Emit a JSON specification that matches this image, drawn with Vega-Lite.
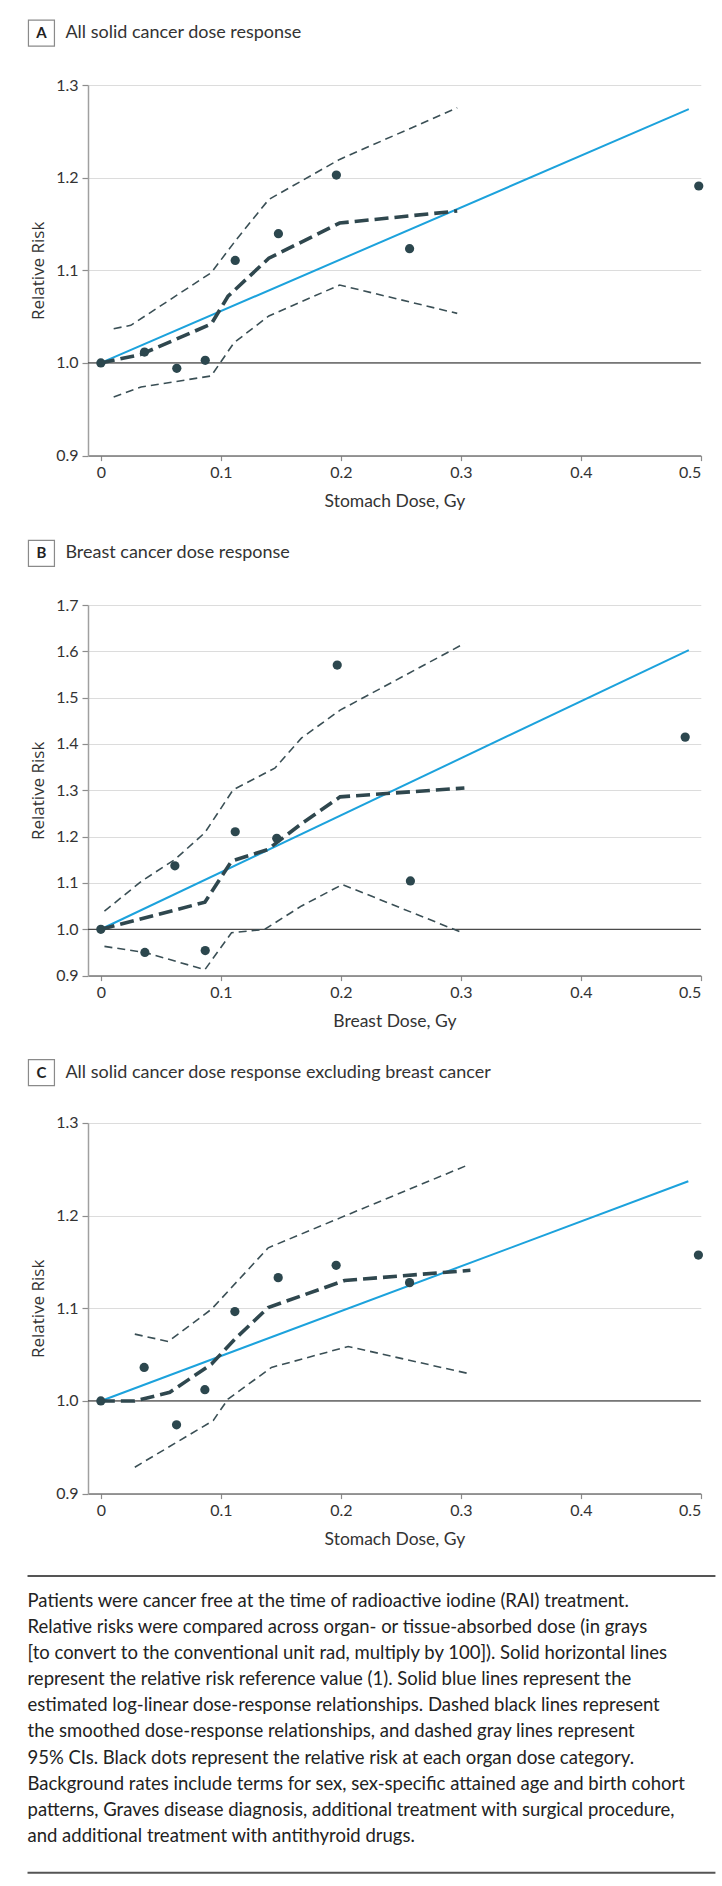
{
  "$schema": "https://vega.github.io/schema/vega-lite/v6.json",
  "padding": {"left": 26, "top": 17, "right": 5, "bottom": 5},
  "background": "white",
  "spacing": 26,
  "config": {
    "view": {"stroke": null},
    "axis": {"labelFont": "Lato", "labelFontSize": 16, "labelColor": "#333333", "titleFont": "Lato", "titleFontSize": 17.5, "titleColor": "#333333", "titleFontWeight": "normal", "tickColor": "#8c8c8c", "tickWidth": 1.2, "gridColor": "#dcdcdc", "gridWidth": 1.2},
    "axisX": {"grid": false, "tickSize": 5, "labelPadding": 4, "titlePadding": 12, "domainColor": "#777777", "domainWidth": 1.5},
    "axisY": {"grid": true, "tickSize": 6, "labelPadding": 4, "titleFont": "Open Sans", "titleFontSize": 17, "titlePadding": 8, "domainColor": "#a0a0a0", "domainWidth": 1.5}
  },
  "vconcat": [
    {
      "width": 612.8, "height": 370.6,
      "data": {"values": [
        {"s": "fit", "d": 0, "rr": 1.0}, {"s": "fit", "d": 0.49, "rr": 1.274},
        {"s": "smooth", "d": 0, "rr": 1.0}, {"s": "smooth", "d": 0.033, "rr": 1.009}, {"s": "smooth", "d": 0.092, "rr": 1.042}, {"s": "smooth", "d": 0.106, "rr": 1.072}, {"s": "smooth", "d": 0.14, "rr": 1.113}, {"s": "smooth", "d": 0.199, "rr": 1.151}, {"s": "smooth", "d": 0.297, "rr": 1.164},
        {"s": "upper", "d": 0.0107, "rr": 1.037}, {"s": "upper", "d": 0.025, "rr": 1.0406}, {"s": "upper", "d": 0.092, "rr": 1.0974}, {"s": "upper", "d": 0.113, "rr": 1.1333}, {"s": "upper", "d": 0.14, "rr": 1.1765}, {"s": "upper", "d": 0.199, "rr": 1.2197}, {"s": "upper", "d": 0.297, "rr": 1.2754},
        {"s": "lower", "d": 0.0107, "rr": 0.9633}, {"s": "lower", "d": 0.0335, "rr": 0.974}, {"s": "lower", "d": 0.092, "rr": 0.986}, {"s": "lower", "d": 0.111, "rr": 1.0219}, {"s": "lower", "d": 0.14, "rr": 1.0507}, {"s": "lower", "d": 0.199, "rr": 1.0841}, {"s": "lower", "d": 0.297, "rr": 1.0535},
        {"s": "dot", "d": 0, "rr": 1.0}, {"s": "dot", "d": 0.0364, "rr": 1.0118}, {"s": "dot", "d": 0.0633, "rr": 0.9942}, {"s": "dot", "d": 0.087, "rr": 1.0028}, {"s": "dot", "d": 0.112, "rr": 1.1107}, {"s": "dot", "d": 0.148, "rr": 1.1395}, {"s": "dot", "d": 0.1963, "rr": 1.2028}, {"s": "dot", "d": 0.2573, "rr": 1.1233}, {"s": "dot", "d": 0.4983, "rr": 1.191}
      ]},
      "layer": [
        {"data": {"values": [{}]}, "mark": {"type": "rule", "color": "#4a4a4a", "strokeWidth": 1.2},
         "encoding": {"y": {"datum": 1, "type": "quantitative", "scale": {"domain": [0.9, 1.3], "nice": false, "zero": false}, "axis": {"values": [0.9, 1.0, 1.1, 1.2, 1.3], "format": ".1f", "title": "Relative Risk"}}}},
        {"transform": [{"filter": "datum.s === 'lower'"}], "mark": {"type": "line", "color": "#3a4f55", "strokeWidth": 1.6, "strokeDash": [8, 5]},
         "encoding": {"x": {"field": "d", "type": "quantitative", "scale": {"domain": [-0.0107, 0.5], "nice": false, "zero": false}, "axis": {"values": [0, 0.1, 0.2, 0.3, 0.4, 0.5], "format": "~g", "title": "Stomach Dose, Gy"}}, "y": {"field": "rr", "type": "quantitative", "title": "Relative Risk"}}},
        {"transform": [{"filter": "datum.s === 'upper'"}], "mark": {"type": "line", "color": "#3a4f55", "strokeWidth": 1.6, "strokeDash": [8, 5]},
         "encoding": {"x": {"field": "d", "type": "quantitative", "title": "Stomach Dose, Gy"}, "y": {"field": "rr", "type": "quantitative", "title": "Relative Risk"}}},
        {"transform": [{"filter": "datum.s === 'fit'"}], "mark": {"type": "line", "color": "#1ca2dc", "strokeWidth": 2},
         "encoding": {"x": {"field": "d", "type": "quantitative", "title": "Stomach Dose, Gy"}, "y": {"field": "rr", "type": "quantitative", "title": "Relative Risk"}}},
        {"transform": [{"filter": "datum.s === 'smooth'"}], "mark": {"type": "line", "color": "#2f474e", "strokeWidth": 3.6, "strokeDash": [14, 6]},
         "encoding": {"x": {"field": "d", "type": "quantitative", "title": "Stomach Dose, Gy"}, "y": {"field": "rr", "type": "quantitative", "title": "Relative Risk"}}},
        {"transform": [{"filter": "datum.s === 'dot'"}], "mark": {"type": "circle", "color": "#2c474e", "size": 85, "opacity": 1},
         "encoding": {"x": {"field": "d", "type": "quantitative", "title": "Stomach Dose, Gy"}, "y": {"field": "rr", "type": "quantitative", "title": "Relative Risk"}}},
        {"data": {"values": [{"letter": "A", "label": "All solid cancer dose response"}]},
         "layer": [
           {"mark": {"type": "point", "shape": "square", "size": 676, "filled": false, "color": "#8a8a8a", "strokeWidth": 1.2, "opacity": 1},
            "encoding": {"x": {"datum": -0.0495}, "y": {"datum": 1.3561}}},
           {"mark": {"type": "text", "font": "Lato", "fontWeight": "bold", "fontSize": 15, "color": "#222222", "align": "center", "baseline": "middle"},
            "encoding": {"x": {"datum": -0.0495}, "y": {"datum": 1.3561}, "text": {"field": "letter"}}},
           {"mark": {"type": "text", "font": "Lato", "fontSize": 18, "color": "#333333", "align": "left", "baseline": "middle"},
            "encoding": {"x": {"datum": -0.0295}, "y": {"datum": 1.3561}, "text": {"field": "label"}}}
         ]}
      ]
    },
    {
      "width": 612.8, "height": 370.6,
      "data": {"values": [
        {"s": "fit", "d": 0, "rr": 1.0}, {"s": "fit", "d": 0.49, "rr": 1.6027},
        {"s": "smooth", "d": 0, "rr": 1.0}, {"s": "smooth", "d": 0.0867, "rr": 1.0584}, {"s": "smooth", "d": 0.1089, "rr": 1.147}, {"s": "smooth", "d": 0.139, "rr": 1.172}, {"s": "smooth", "d": 0.1673, "rr": 1.228}, {"s": "smooth", "d": 0.1994, "rr": 1.2858}, {"s": "smooth", "d": 0.303, "rr": 1.305},
        {"s": "upper", "d": 0.003, "rr": 1.039}, {"s": "upper", "d": 0.034, "rr": 1.104}, {"s": "upper", "d": 0.0617, "rr": 1.1506}, {"s": "upper", "d": 0.0867, "rr": 1.2086}, {"s": "upper", "d": 0.1103, "rr": 1.3013}, {"s": "upper", "d": 0.145, "rr": 1.3477}, {"s": "upper", "d": 0.1673, "rr": 1.413}, {"s": "upper", "d": 0.1994, "rr": 1.473}, {"s": "upper", "d": 0.303, "rr": 1.617},
        {"s": "lower", "d": 0.003, "rr": 0.963}, {"s": "lower", "d": 0.0367, "rr": 0.95}, {"s": "lower", "d": 0.0867, "rr": 0.9128}, {"s": "lower", "d": 0.1089, "rr": 0.9924}, {"s": "lower", "d": 0.1367, "rr": 1.0}, {"s": "lower", "d": 0.1673, "rr": 1.0504}, {"s": "lower", "d": 0.2013, "rr": 1.0966}, {"s": "lower", "d": 0.301, "rr": 0.9929},
        {"s": "dot", "d": 0, "rr": 1.0}, {"s": "dot", "d": 0.0367, "rr": 0.95}, {"s": "dot", "d": 0.0617, "rr": 1.137}, {"s": "dot", "d": 0.087, "rr": 0.954}, {"s": "dot", "d": 0.112, "rr": 1.2105}, {"s": "dot", "d": 0.1466, "rr": 1.1965}, {"s": "dot", "d": 0.197, "rr": 1.5703}, {"s": "dot", "d": 0.258, "rr": 1.1044}, {"s": "dot", "d": 0.487, "rr": 1.4148}
      ]},
      "layer": [
        {"data": {"values": [{}]}, "mark": {"type": "rule", "color": "#4a4a4a", "strokeWidth": 1.2},
         "encoding": {"y": {"datum": 1, "type": "quantitative", "scale": {"domain": [0.9, 1.7], "nice": false, "zero": false}, "axis": {"values": [0.9, 1.0, 1.1, 1.2, 1.3, 1.4, 1.5, 1.6, 1.7], "format": ".1f", "title": "Relative Risk"}}}},
        {"transform": [{"filter": "datum.s === 'lower'"}], "mark": {"type": "line", "color": "#3a4f55", "strokeWidth": 1.6, "strokeDash": [8, 5]},
         "encoding": {"x": {"field": "d", "type": "quantitative", "scale": {"domain": [-0.0107, 0.5], "nice": false, "zero": false}, "axis": {"values": [0, 0.1, 0.2, 0.3, 0.4, 0.5], "format": "~g", "title": "Breast Dose, Gy"}}, "y": {"field": "rr", "type": "quantitative", "title": "Relative Risk"}}},
        {"transform": [{"filter": "datum.s === 'upper'"}], "mark": {"type": "line", "color": "#3a4f55", "strokeWidth": 1.6, "strokeDash": [8, 5]},
         "encoding": {"x": {"field": "d", "type": "quantitative", "title": "Breast Dose, Gy"}, "y": {"field": "rr", "type": "quantitative", "title": "Relative Risk"}}},
        {"transform": [{"filter": "datum.s === 'fit'"}], "mark": {"type": "line", "color": "#1ca2dc", "strokeWidth": 2},
         "encoding": {"x": {"field": "d", "type": "quantitative", "title": "Breast Dose, Gy"}, "y": {"field": "rr", "type": "quantitative", "title": "Relative Risk"}}},
        {"transform": [{"filter": "datum.s === 'smooth'"}], "mark": {"type": "line", "color": "#2f474e", "strokeWidth": 3.6, "strokeDash": [14, 6]},
         "encoding": {"x": {"field": "d", "type": "quantitative", "title": "Breast Dose, Gy"}, "y": {"field": "rr", "type": "quantitative", "title": "Relative Risk"}}},
        {"transform": [{"filter": "datum.s === 'dot'"}], "mark": {"type": "circle", "color": "#2c474e", "size": 85, "opacity": 1},
         "encoding": {"x": {"field": "d", "type": "quantitative", "title": "Breast Dose, Gy"}, "y": {"field": "rr", "type": "quantitative", "title": "Relative Risk"}}},
        {"data": {"values": [{"letter": "B", "label": "Breast cancer dose response"}]},
         "layer": [
           {"mark": {"type": "point", "shape": "square", "size": 676, "filled": false, "color": "#8a8a8a", "strokeWidth": 1.2, "opacity": 1},
            "encoding": {"x": {"datum": -0.0495}, "y": {"datum": 1.8114}}},
           {"mark": {"type": "text", "font": "Lato", "fontWeight": "bold", "fontSize": 15, "color": "#222222", "align": "center", "baseline": "middle"},
            "encoding": {"x": {"datum": -0.0495}, "y": {"datum": 1.8114}, "text": {"field": "letter"}}},
           {"mark": {"type": "text", "font": "Lato", "fontSize": 18, "color": "#333333", "align": "left", "baseline": "middle"},
            "encoding": {"x": {"datum": -0.0295}, "y": {"datum": 1.8114}, "text": {"field": "label"}}}
         ]}
      ]
    },
    {
      "width": 612.8, "height": 370.6,
      "data": {"values": [
        {"s": "fit", "d": 0, "rr": 1.0}, {"s": "fit", "d": 0.4896, "rr": 1.2371},
        {"s": "smooth", "d": 0, "rr": 1.0}, {"s": "smooth", "d": 0.0283, "rr": 1.0}, {"s": "smooth", "d": 0.0575, "rr": 1.0093}, {"s": "smooth", "d": 0.0922, "rr": 1.0398}, {"s": "smooth", "d": 0.1117, "rr": 1.0667}, {"s": "smooth", "d": 0.1395, "rr": 1.1008}, {"s": "smooth", "d": 0.2032, "rr": 1.13}, {"s": "smooth", "d": 0.308, "rr": 1.141},
        {"s": "upper", "d": 0.0283, "rr": 1.0721}, {"s": "upper", "d": 0.0561, "rr": 1.0642}, {"s": "upper", "d": 0.0922, "rr": 1.099}, {"s": "upper", "d": 0.1395, "rr": 1.1653}, {"s": "upper", "d": 0.1994, "rr": 1.1976}, {"s": "upper", "d": 0.3067, "rr": 1.2551},
        {"s": "lower", "d": 0.0283, "rr": 0.9285}, {"s": "lower", "d": 0.0936, "rr": 0.9788}, {"s": "lower", "d": 0.106, "rr": 1.002}, {"s": "lower", "d": 0.1422, "rr": 1.0362}, {"s": "lower", "d": 0.2061, "rr": 1.0588}, {"s": "lower", "d": 0.3056, "rr": 1.0298},
        {"s": "dot", "d": 0, "rr": 1.0}, {"s": "dot", "d": 0.0361, "rr": 1.0362}, {"s": "dot", "d": 0.0631, "rr": 0.9742}, {"s": "dot", "d": 0.0867, "rr": 1.0122}, {"s": "dot", "d": 0.1117, "rr": 1.0965}, {"s": "dot", "d": 0.1478, "rr": 1.1331}, {"s": "dot", "d": 0.1961, "rr": 1.1464}, {"s": "dot", "d": 0.2573, "rr": 1.1277}, {"s": "dot", "d": 0.498, "rr": 1.1575}
      ]},
      "layer": [
        {"data": {"values": [{}]}, "mark": {"type": "rule", "color": "#4a4a4a", "strokeWidth": 1.2},
         "encoding": {"y": {"datum": 1, "type": "quantitative", "scale": {"domain": [0.9, 1.3], "nice": false, "zero": false}, "axis": {"values": [0.9, 1.0, 1.1, 1.2, 1.3], "format": ".1f", "title": "Relative Risk"}}}},
        {"transform": [{"filter": "datum.s === 'lower'"}], "mark": {"type": "line", "color": "#3a4f55", "strokeWidth": 1.6, "strokeDash": [8, 5]},
         "encoding": {"x": {"field": "d", "type": "quantitative", "scale": {"domain": [-0.0107, 0.5], "nice": false, "zero": false}, "axis": {"values": [0, 0.1, 0.2, 0.3, 0.4, 0.5], "format": "~g", "title": "Stomach Dose, Gy"}}, "y": {"field": "rr", "type": "quantitative", "title": "Relative Risk"}}},
        {"transform": [{"filter": "datum.s === 'upper'"}], "mark": {"type": "line", "color": "#3a4f55", "strokeWidth": 1.6, "strokeDash": [8, 5]},
         "encoding": {"x": {"field": "d", "type": "quantitative", "title": "Stomach Dose, Gy"}, "y": {"field": "rr", "type": "quantitative", "title": "Relative Risk"}}},
        {"transform": [{"filter": "datum.s === 'fit'"}], "mark": {"type": "line", "color": "#1ca2dc", "strokeWidth": 2},
         "encoding": {"x": {"field": "d", "type": "quantitative", "title": "Stomach Dose, Gy"}, "y": {"field": "rr", "type": "quantitative", "title": "Relative Risk"}}},
        {"transform": [{"filter": "datum.s === 'smooth'"}], "mark": {"type": "line", "color": "#2f474e", "strokeWidth": 3.6, "strokeDash": [14, 6]},
         "encoding": {"x": {"field": "d", "type": "quantitative", "title": "Stomach Dose, Gy"}, "y": {"field": "rr", "type": "quantitative", "title": "Relative Risk"}}},
        {"transform": [{"filter": "datum.s === 'dot'"}], "mark": {"type": "circle", "color": "#2c474e", "size": 85, "opacity": 1},
         "encoding": {"x": {"field": "d", "type": "quantitative", "title": "Stomach Dose, Gy"}, "y": {"field": "rr", "type": "quantitative", "title": "Relative Risk"}}},
        {"data": {"values": [{"letter": "C", "label": "All solid cancer dose response excluding breast cancer"}]},
         "layer": [
           {"mark": {"type": "point", "shape": "square", "size": 676, "filled": false, "color": "#8a8a8a", "strokeWidth": 1.2, "opacity": 1},
            "encoding": {"x": {"datum": -0.0495}, "y": {"datum": 1.3543}}},
           {"mark": {"type": "text", "font": "Lato", "fontWeight": "bold", "fontSize": 15, "color": "#222222", "align": "center", "baseline": "middle"},
            "encoding": {"x": {"datum": -0.0495}, "y": {"datum": 1.3543}, "text": {"field": "letter"}}},
           {"mark": {"type": "text", "font": "Lato", "fontSize": 18, "color": "#333333", "align": "left", "baseline": "middle"},
            "encoding": {"x": {"datum": -0.0295}, "y": {"datum": 1.3543}, "text": {"field": "label"}}}
         ]}
      ]
    },
    {
      "width": 612.8, "height": 296.7,
      "data": {"values": [
        {"n": 1, "t": "Patients were cancer free at the time of radioactive iodine (RAI) treatment."},
        {"n": 2, "t": "Relative risks were compared across organ- or tissue-absorbed dose (in grays"},
        {"n": 3, "t": "[to convert to the conventional unit rad, multiply by 100]). Solid horizontal lines"},
        {"n": 4, "t": "represent the relative risk reference value (1). Solid blue lines represent the"},
        {"n": 5, "t": "estimated log-linear dose-response relationships. Dashed black lines represent"},
        {"n": 6, "t": "the smoothed dose-response relationships, and dashed gray lines represent"},
        {"n": 7, "t": "95% CIs. Black dots represent the relative risk at each organ dose category."},
        {"n": 8, "t": "Background rates include terms for sex, sex-specific attained age and birth cohort"},
        {"n": 9, "t": "patterns, Graves disease diagnosis, additional treatment with surgical procedure,"},
        {"n": 10, "t": "and additional treatment with antithyroid drugs."}
      ]},
      "layer": [
        {"data": {"values": [{}]}, "mark": {"type": "rule", "color": "#555555", "strokeWidth": 2},
         "encoding": {"x": {"datum": -0.0611, "scale": {"domain": [-0.0107, 0.5], "nice": false, "zero": false}, "axis": null}, "x2": {"datum": 0.5122}, "y": {"datum": 0.042, "scale": {"domain": [0.042, 11.41], "reverse": true, "nice": false, "zero": false}, "axis": null}}},
        {"data": {"values": [{}]}, "mark": {"type": "rule", "color": "#555555", "strokeWidth": 2},
         "encoding": {"x": {"datum": -0.0611}, "x2": {"datum": 0.5122}, "y": {"datum": 11.41}}},
        {"mark": {"type": "text", "font": "Lato", "fontSize": 18.5, "color": "#222222", "align": "left", "baseline": "middle"},
         "encoding": {"x": {"datum": -0.0611}, "y": {"field": "n", "type": "quantitative"}, "text": {"field": "t"}}}
      ]
    }
  ]
}
